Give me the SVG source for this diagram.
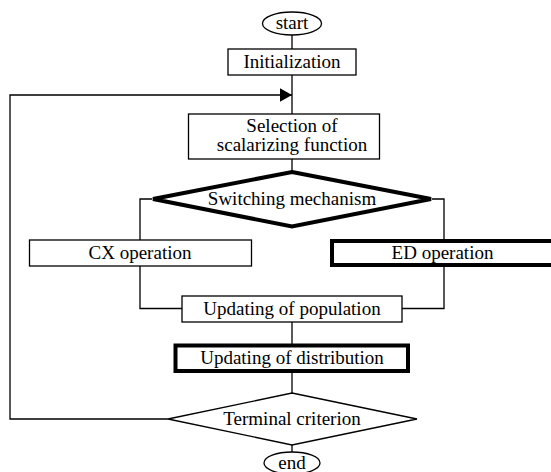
<svg xmlns="http://www.w3.org/2000/svg" width="551" height="472" viewBox="0 0 551 472">
<defs>
<style>
.box{fill:#fff;stroke:#000;stroke-width:1.3}
.thick{fill:#fff;stroke:#000;stroke-width:4}
.ln{fill:none;stroke:#000;stroke-width:1.3}
text{font-family:"Liberation Serif","Times New Roman",serif;font-size:19px;fill:#000;text-anchor:middle}
</style>
<marker id="arr" markerWidth="12" markerHeight="14" refX="12" refY="7" orient="auto" markerUnits="userSpaceOnUse">
<path d="M0,0.3 L12,7 L0,13.7 Z" fill="#000"/>
</marker>
</defs>
<rect width="551" height="472" fill="#fff"/>
<g id="connectors">
<line class="ln" x1="292" y1="35" x2="292" y2="49"/>
<line class="ln" x1="292" y1="75" x2="292" y2="114"/>
<polyline class="ln" points="168,419 10,419 10,95 292,95" marker-end="url(#arr)"/>
<line class="ln" x1="292" y1="159" x2="292" y2="172"/>
<polyline class="ln" points="152,199 140,199 140,240"/>
<polyline class="ln" points="432,199 444,199 444,241"/>
<polyline class="ln" points="140,266 140,308.5 182,308.5"/>
<polyline class="ln" points="444,265 444,308.5 402,308.5"/>
<line class="ln" x1="292" y1="322" x2="292" y2="345"/>
<line class="ln" x1="292" y1="371" x2="292" y2="393"/>
<line class="ln" x1="292" y1="445" x2="292" y2="452"/>
</g>
<g id="start">
<ellipse class="box" cx="292" cy="23.5" rx="29.5" ry="11.5"/>
<text x="292" y="29">start</text>
</g>
<g id="init">
<rect class="box" x="228" y="49" width="128" height="26"/>
<text x="292" y="68">Initialization</text>
</g>
<g id="selection">
<rect class="box" x="188.5" y="114" width="191" height="45"/>
<text x="292" y="132">Selection of</text>
<text x="292" y="151">scalarizing function</text>
</g>
<g id="switching">
<polygon class="thick" points="292,172 431,199 292,226.5 153,199"/>
<text x="292" y="205">Switching mechanism</text>
</g>
<g id="cx">
<rect class="box" x="29.5" y="240" width="222" height="26"/>
<text x="140" y="259">CX operation</text>
</g>
<g id="ed">
<rect class="thick" x="332" y="241" width="230" height="24"/>
<text x="442.5" y="259">ED operation</text>
</g>
<g id="population">
<rect class="box" x="182" y="296" width="220" height="26"/>
<text x="292" y="315">Updating of population</text>
</g>
<g id="distribution">
<rect class="thick" x="175.5" y="345.5" width="232.5" height="25.5"/>
<text x="292" y="364">Updating of distribution</text>
</g>
<g id="terminal">
<polygon class="box" points="292,393 417,419 292,445 168,419"/>
<text x="292" y="425">Terminal criterion</text>
</g>
<g id="end">
<ellipse class="box" cx="292" cy="463" rx="28" ry="11"/>
<text x="292" y="469">end</text>
</g>
</svg>
